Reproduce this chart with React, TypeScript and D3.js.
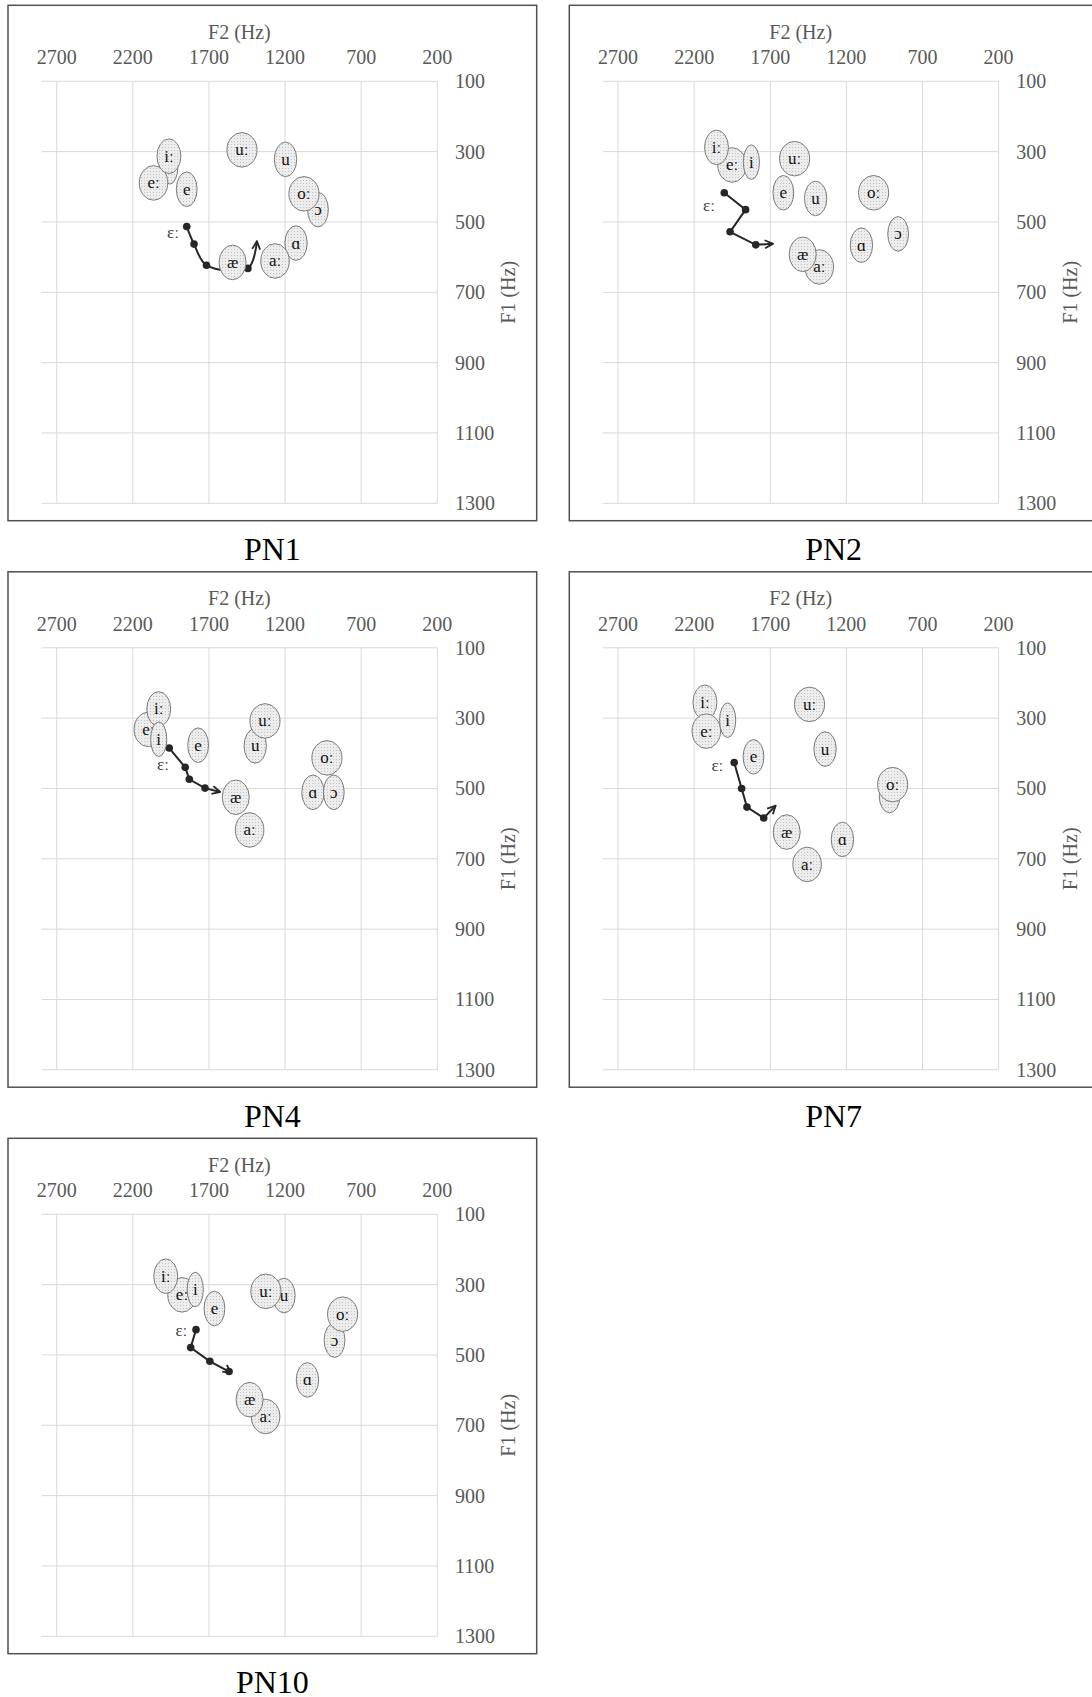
import React from "react";
import * as d3 from "d3";

// ---------- axes ----------
const F2_TICKS = [2700, 2200, 1700, 1200, 700, 200];
const F1_TICKS = [100, 300, 500, 700, 900, 1100, 1300];
const F2_DOMAIN = [2800, 200];
const F1_DOMAIN = [100, 1300];
const X_TITLE = "F2 (Hz)";
const Y_TITLE = "F1 (Hz)";
const DIPH_LABEL = "ɛː";

// ---------- PN1 ----------
const PN1_VOWELS = ["i", "eː", "iː", "e", "uː", "u", "ɔ", "oː", "ɑ", "aː", "æ"];
const PN1_F2 = [1957, 2064, 1963, 1846, 1483, 1197, 984, 1076, 1128, 1266, 1545];
const PN1_F1 = [343, 389, 313, 407, 295, 322, 465, 420, 560, 611, 615];
const PN1_TRAJ_F2 = [1846, 1798, 1716, 1444, 1385];
const PN1_TRAJ_F1 = [513, 563, 623, 632, 555];
const PN1_LABEL = [1936, 529];

// ---------- PN2 ----------
const PN2_VOWELS = ["eː", "iː", "i", "uː", "e", "u", "oː", "ɔ", "ɑ", "aː", "æ"];
const PN2_F2 = [1951, 2053, 1824, 1540, 1614, 1402, 1021, 860, 1101, 1378, 1487];
const PN2_F1 = [338, 288, 330, 320, 417, 433, 417, 534, 566, 628, 592];
const PN2_TRAJ_F2 = [2002, 1862, 1964, 1795, 1683];
const PN2_TRAJ_F1 = [417, 465, 528, 565, 562];
const PN2_LABEL = [2102, 454];

// ---------- PN4 ----------
const PN4_VOWELS = ["eː", "iː", "i", "e", "u", "uː", "oː", "ɑ", "ɔ", "aː", "æ"];
const PN4_F2 = [2098, 2030, 2030, 1771, 1396, 1332, 925, 1017, 880, 1433, 1524];
const PN4_F1 = [332, 274, 360, 377, 379, 308, 413, 511, 511, 618, 525];
const PN4_TRAJ_F2 = [1961, 1856, 1829, 1726, 1626];
const PN4_TRAJ_F1 = [385, 440, 474, 499, 510];
const PN4_LABEL = [2002, 433];

// ---------- PN7 ----------
const PN7_VOWELS = ["iː", "eː", "i", "e", "uː", "u", "ɔ", "oː", "ɑ", "aː", "æ"];
const PN7_F2 = [2129, 2120, 1980, 1810, 1442, 1340, 916, 896, 1226, 1458, 1592];
const PN7_F1 = [255, 337, 306, 410, 261, 388, 520, 489, 645, 716, 624];
const PN7_TRAJ_F2 = [1937, 1888, 1853, 1743, 1665];
const PN7_TRAJ_F1 = [426, 500, 553, 584, 549];
const PN7_LABEL = [2047, 436];

// ---------- PN10 ----------
const PN10_VOWELS = ["eː", "i", "iː", "e", "u", "uː", "ɔ", "oː", "ɑ", "aː", "æ"];
const PN10_F2 = [1877, 1790, 1984, 1664, 1207, 1326, 875, 822, 1053, 1328, 1433];
const PN10_F1 = [329, 314, 276, 368, 331, 319, 458, 384, 571, 675, 627];
const PN10_TRAJ_F2 = [1785, 1820, 1694, 1568, 1555];
const PN10_TRAJ_F1 = [428, 479, 518, 547, 551];
const PN10_LABEL = [1881, 430];

const PANELS = [
  { name: "PN1", vowels: PN1_VOWELS, f2: PN1_F2, f1: PN1_F1, tf2: PN1_TRAJ_F2, tf1: PN1_TRAJ_F1, label: PN1_LABEL, smooth: true, col: 0, row: 0 },
  { name: "PN2", vowels: PN2_VOWELS, f2: PN2_F2, f1: PN2_F1, tf2: PN2_TRAJ_F2, tf1: PN2_TRAJ_F1, label: PN2_LABEL, smooth: false, col: 1, row: 0 },
  { name: "PN4", vowels: PN4_VOWELS, f2: PN4_F2, f1: PN4_F1, tf2: PN4_TRAJ_F2, tf1: PN4_TRAJ_F1, label: PN4_LABEL, smooth: false, col: 0, row: 1 },
  { name: "PN7", vowels: PN7_VOWELS, f2: PN7_F2, f1: PN7_F1, tf2: PN7_TRAJ_F2, tf1: PN7_TRAJ_F1, label: PN7_LABEL, smooth: false, col: 1, row: 1 },
  { name: "PN10", vowels: PN10_VOWELS, f2: PN10_F2, f1: PN10_F1, tf2: PN10_TRAJ_F2, tf1: PN10_TRAJ_F1, label: PN10_LABEL, smooth: false, col: 0, row: 2 },
];

// ---------- styling ----------
const FONT = "'Liberation Serif', 'Times New Roman', serif";
const AXIS_COLOR = "#595959";
const GRID_COLOR = "#d9d9d9";
const LABEL_SIZE = 17;
const CHAR_EM: Record<string, number> = {
  i: 0.278, e: 0.444, u: 0.5, o: 0.5, a: 0.444, "æ": 0.667, "ɑ": 0.5, "ɔ": 0.444, "ː": 0.278,
};
const textW = (s: string) =>
  Array.from(s).reduce((acc, c) => acc + (CHAR_EM[c] ?? 0.5), 0) * LABEL_SIZE;

const FRAME_X0 = 8;
const FRAME_Y0 = 5.3;
const COL_STEP = 561.3;
const ROW_STEP = 566.5;
const FRAME_W = 528.7;
const FRAME_H = 515.4;
const PLOT_DX = 33.5;
const PLOT_DY = 76;
const PLOT_W = 395.8;
const PLOT_H = 422;

function Panel({ p }: { p: any }) {
  const fx = FRAME_X0 + p.col * COL_STEP;
  const fy = FRAME_Y0 + p.row * ROW_STEP;
  const left = fx + PLOT_DX;
  const top = fy + PLOT_DY;
  const x = d3.scaleLinear().domain(F2_DOMAIN).range([left, left + PLOT_W]);
  const y = d3.scaleLinear().domain(F1_DOMAIN).range([top, top + PLOT_H]);
  const pts: [number, number][] = p.tf2.map((v: number, i: number) => [x(v), y(p.tf1[i])]);
  const line = d3
    .line()
    .curve(p.smooth ? d3.curveCatmullRom.alpha(0.5) : d3.curveLinear);
  const right = x(200);
  const bottom = y(1300);

  return (
    <g>
      <rect x={fx} y={fy} width={FRAME_W} height={FRAME_H} fill="#fff" stroke="#505050" strokeWidth={1.5} />
      {/* gridlines */}
      {F2_TICKS.map((t) => (
        <line key={"v" + t} x1={x(t)} x2={x(t)} y1={y(100)} y2={bottom} stroke={GRID_COLOR} strokeWidth={1} />
      ))}
      {F1_TICKS.map((t) => (
        <line key={"h" + t} x1={x(2800)} x2={right} y1={y(t)} y2={y(t)} stroke={GRID_COLOR} strokeWidth={1} />
      ))}
      {/* x ticks */}
      {F2_TICKS.map((t) => (
        <text key={"xt" + t} x={x(t)} y={fy + 59} textAnchor="middle" fontSize={20} fill={AXIS_COLOR} fontFamily={FONT}>
          {t}
        </text>
      ))}
      <text x={(left + right) / 2} y={fy + 33.3} textAnchor="middle" fontSize={20} fill={AXIS_COLOR} fontFamily={FONT}>
        {X_TITLE}
      </text>
      {/* y ticks */}
      {F1_TICKS.map((t) => (
        <text key={"yt" + t} x={right + 17.7} y={y(t) + 7} fontSize={20} fill={AXIS_COLOR} fontFamily={FONT}>
          {t}
        </text>
      ))}
      <text
        transform={`translate(${right + 78},${(top + bottom) / 2}) rotate(-90)`}
        textAnchor="middle"
        fontSize={20}
        fill={AXIS_COLOR}
        fontFamily={FONT}
      >
        {Y_TITLE}
      </text>
      {/* trajectory */}
      <path d={line(pts) || ""} fill="none" stroke="#262626" strokeWidth={2} markerEnd="url(#arrowHead)" />
      {pts.slice(0, 4).map((d, i) => (
        <circle key={"tp" + i} cx={d[0]} cy={d[1]} r={3.8} fill="#262626" />
      ))}
      <text
        x={x(p.label[0])}
        y={y(p.label[1])}
        dy="0.32em"
        textAnchor="middle"
        fontSize={LABEL_SIZE}
        fill="#3a3a3a"
        fontFamily={FONT}
      >
        {DIPH_LABEL}
      </text>
      {/* vowel ellipses */}
      {p.vowels.map((v: string, i: number) => {
        const cx = x(p.f2[i]);
        const cy = y(p.f1[i]);
        const rx = 4.2 + 0.82 * textW(v);
        return (
          <g key={"v" + i}>
            <ellipse cx={cx} cy={cy} rx={rx} ry={17.3} fill="url(#stipple)" stroke="#7a7a7a" strokeWidth={1} />
            <text x={cx} y={cy} dy="0.32em" textAnchor="middle" fontSize={LABEL_SIZE} fill="#111" fontFamily={FONT}>
              {v}
            </text>
          </g>
        );
      })}
      {/* caption */}
      <text x={fx + FRAME_W / 2} y={fy + 555} textAnchor="middle" fontSize={32} fill="#000" fontFamily={FONT}>
        {p.name}
      </text>
    </g>
  );
}

export default function App() {
  return (
    <div style={{ position: "absolute", left: 0, top: 0 }}>
      <svg width={1092} height={1697} style={{ display: "block", background: "#fff" }}>
        <defs>
          <pattern id="stipple" width={3} height={3} patternUnits="userSpaceOnUse">
            <rect width={3} height={3} fill="#ededed" />
            <rect x={0} y={0} width={1} height={1} fill="#c2c2c2" />
          </pattern>
          <marker
            id="arrowHead"
            viewBox="0 0 10 10"
            refX={9}
            refY={5}
            markerWidth={10}
            markerHeight={10}
            markerUnits="userSpaceOnUse"
            orient="auto"
          >
            <path d="M1,1 L9,5 L1,9" fill="none" stroke="#262626" strokeWidth={1.8} />
          </marker>
        </defs>
        {PANELS.map((p) => (
          <Panel key={p.name} p={p} />
        ))}
      </svg>
    </div>
  );
}
